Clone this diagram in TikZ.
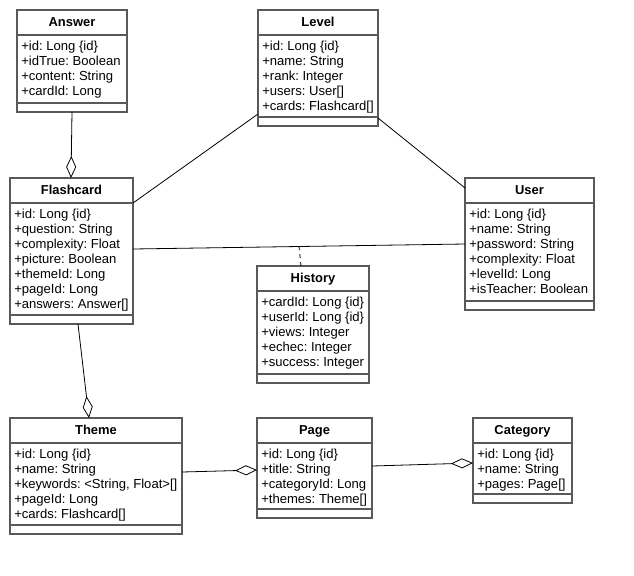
\documentclass[tikz,border=0pt]{standalone}
\usepackage{fontspec}
\setmainfont{Liberation Sans}
\usetikzlibrary{arrows.meta,calc}

\tikzset{
  classbox/.style={draw=black!65, line width=1.1pt, fill=white, rectangle, anchor=north west, inner sep=0pt, outer sep=0pt},
  classline/.style={draw=black!65, line width=1.1pt},
  classtitle/.style={anchor=base, inner sep=0pt, font=\fontsize{9.7}{11.25}\selectfont\bfseries},
  classattr/.style={anchor=north west, align=left, inner xsep=3pt, inner ysep=4pt, font=\fontsize{9.8}{11.25}\selectfont\frenchspacing},
  assoc/.style={draw=black, line width=0.6pt},
  aggr/.style={assoc, -{Diamond[open, length=16.5pt, width=7.5pt]}},
}

\begin{document}
\begin{tikzpicture}[x=0.75pt,y=-0.75pt]
			\useasboundingbox (0,0) rectangle (634,575);
			
			%Answer-Class
			\node[classbox, minimum width=110*0.75pt, minimum height=102*0.75pt] (answer) at (17,10) {};
			\node[classtitle] (answer-title) at ($(answer.north)+(0,16.5)$) {Answer};
			\draw[classline] ($(answer.north west)+(0,25)$) -- ($(answer.north east)+(0,25)$);
			\node[classattr] (answer-attr) at ($(answer.north west)+(0,25)$) {+id: Long \{id\}\\+idTrue: Boolean\\+content: String\\+cardId: Long};
			\draw[classline] ($(answer.south west)+(0,-9)$) -- ($(answer.south east)+(0,-9)$);
			
			%Level-Class
			\node[classbox, minimum width=120*0.75pt, minimum height=116*0.75pt] (level) at (258,10) {};
			\node[classtitle] (level-title) at ($(level.north)+(0,16.5)$) {Level};
			\draw[classline] ($(level.north west)+(0,25)$) -- ($(level.north east)+(0,25)$);
			\node[classattr] (level-attr) at ($(level.north west)+(0,25)$) {+id: Long \{id\}\\+name: String\\+rank: Integer\\+users: User[]\\+cards: Flashcard[]};
			\draw[classline] ($(level.south west)+(0,-9)$) -- ($(level.south east)+(0,-9)$);
			
			%Flashcard-Class
			\node[classbox, minimum width=123*0.75pt, minimum height=146*0.75pt] (flash) at (10,178) {};
			\node[classtitle] (flash-title) at ($(flash.north)+(0,16.5)$) {Flashcard};
			\draw[classline] ($(flash.north west)+(0,25)$) -- ($(flash.north east)+(0,25)$);
			\node[classattr] (flash-attr) at ($(flash.north west)+(0,25)$) {+id: Long \{id\}\\+question: String\\+complexity: Float\\+picture: Boolean\\+themeId: Long\\+pageId: Long\\+answers: Answer[]};
			\draw[classline] ($(flash.south west)+(0,-9)$) -- ($(flash.south east)+(0,-9)$);
			
			%User-Class
			\node[classbox, minimum width=129*0.75pt, minimum height=132*0.75pt] (user) at (465,178) {};
			\node[classtitle] (user-title) at ($(user.north)+(0,16.5)$) {User};
			\draw[classline] ($(user.north west)+(0,25)$) -- ($(user.north east)+(0,25)$);
			\node[classattr] (user-attr) at ($(user.north west)+(0,25)$) {+id: Long \{id\}\\+name: String\\+password: String\\+complexity: Float\\+levelId: Long\\+isTeacher: Boolean};
			\draw[classline] ($(user.south west)+(0,-9)$) -- ($(user.south east)+(0,-9)$);
			
			%History-Class
			\node[classbox, minimum width=112*0.75pt, minimum height=117*0.75pt] (history) at (257,266) {};
			\node[classtitle] (history-title) at ($(history.north)+(0,16.5)$) {History};
			\draw[classline] ($(history.north west)+(0,25)$) -- ($(history.north east)+(0,25)$);
			\node[classattr] (history-attr) at ($(history.north west)+(0,25)$) {+cardId: Long \{id\}\\+userId: Long \{id\}\\+views: Integer\\+echec: Integer\\+success: Integer};
			\draw[classline] ($(history.south west)+(0,-9)$) -- ($(history.south east)+(0,-9)$);
			
			%Theme-Class
			\node[classbox, minimum width=172*0.75pt, minimum height=116*0.75pt] (theme) at (10,418) {};
			\node[classtitle] (theme-title) at ($(theme.north)+(0,16.5)$) {Theme};
			\draw[classline] ($(theme.north west)+(0,25)$) -- ($(theme.north east)+(0,25)$);
			\node[classattr] (theme-attr) at ($(theme.north west)+(0,25)$) {+id: Long \{id\}\\+name: String\\+keywords: <String, Float>[]\\+pageId: Long\\+cards: Flashcard[]};
			\draw[classline] ($(theme.south west)+(0,-9)$) -- ($(theme.south east)+(0,-9)$);
			
			%Page-Class
			\node[classbox, minimum width=115*0.75pt, minimum height=100*0.75pt] (page) at (257,418) {};
			\node[classtitle] (page-title) at ($(page.north)+(0,16.5)$) {Page};
			\draw[classline] ($(page.north west)+(0,25)$) -- ($(page.north east)+(0,25)$);
			\node[classattr] (page-attr) at ($(page.north west)+(0,25)$) {+id: Long \{id\}\\+title: String\\+categoryId: Long\\+themes: Theme[]};
			\draw[classline] ($(page.south west)+(0,-9)$) -- ($(page.south east)+(0,-9)$);
			
			%Category-Class
			\node[classbox, minimum width=99*0.75pt, minimum height=85*0.75pt] (cat) at (473,418) {};
			\node[classtitle] (cat-title) at ($(cat.north)+(0,16.5)$) {Category};
			\draw[classline] ($(cat.north west)+(0,25)$) -- ($(cat.north east)+(0,25)$);
			\node[classattr] (cat-attr) at ($(cat.north west)+(0,25)$) {+id: Long \{id\}\\+name: String\\+pages: Page[]};
			\draw[classline] ($(cat.south west)+(0,-9)$) -- ($(cat.south east)+(0,-9)$);
			
			%Connections
			\draw[aggr] ($(answer.south west)+(55,0)$) -- ($(flash.north west)+(61,0)$);
			\draw[aggr] ($(flash.south west)+(68,0)$) -- ($(theme.north west)+(79,0)$);
			\draw[assoc] ($(level.north west)+(0,104)$) -- ($(flash.north east)+(0,25)$);
			\draw[assoc] ($(level.north east)+(0,108)$) -- ($(user.north west)+(0,10)$);
			\draw[assoc] ($(flash.north east)+(0,71)$) -- ($(user.north west)+(0,66)$) coordinate[pos=0.5] (histlink);
			\draw[assoc, dashed] ($(history.north west)+(44,0)$) -- (histlink);
			\draw[aggr] ($(theme.north east)+(0,54)$) -- ($(page.north west)+(0,52)$);
			\draw[aggr] ($(page.north east)+(0,48)$) -- ($(cat.north west)+(0,45)$);
			
		\end{tikzpicture}
\end{document}
